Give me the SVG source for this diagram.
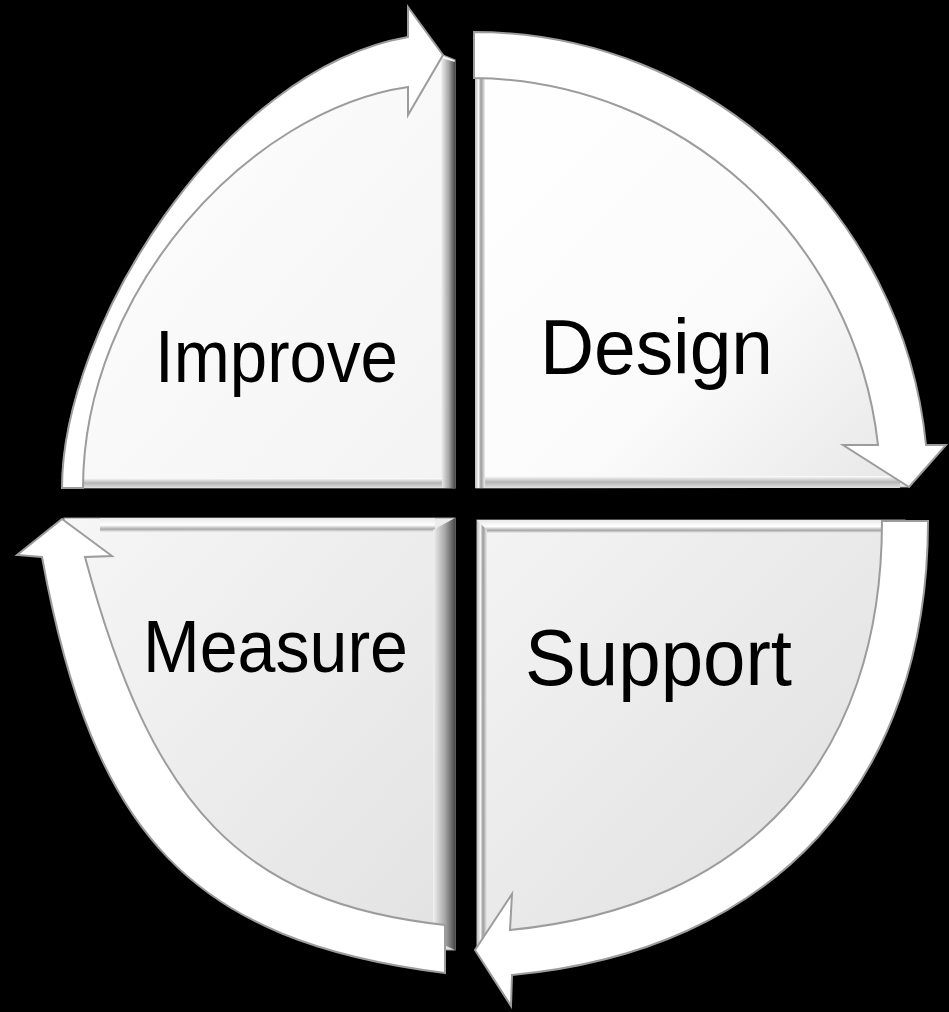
<svg xmlns="http://www.w3.org/2000/svg" width="949" height="1012" viewBox="0 0 949 1012">
  <defs>
    <linearGradient id="gTL" x1="0" y1="0" x2="1" y2="1">
      <stop offset="0" stop-color="#ffffff"/>
      <stop offset="1" stop-color="#f3f3f3"/>
    </linearGradient>
    <linearGradient id="gTR" x1="0" y1="0" x2="1" y2="1">
      <stop offset="0" stop-color="#ffffff"/>
      <stop offset="0.6" stop-color="#fbfbfb"/>
      <stop offset="1" stop-color="#e6e6e6"/>
    </linearGradient>
    <linearGradient id="gBL" x1="0" y1="0" x2="1" y2="1">
      <stop offset="0" stop-color="#f6f6f6"/>
      <stop offset="1" stop-color="#e2e2e2"/>
    </linearGradient>
    <linearGradient id="gBR" x1="0" y1="0" x2="1" y2="1">
      <stop offset="0" stop-color="#f4f4f4"/>
      <stop offset="1" stop-color="#dedede"/>
    </linearGradient>
    <linearGradient id="sideR" x1="0" y1="0" x2="1" y2="0">
      <stop offset="0" stop-color="#f2f2f2"/>
      <stop offset="0.55" stop-color="#a6a6a6"/>
      <stop offset="1" stop-color="#4a4a4a"/>
    </linearGradient>
    <linearGradient id="sideL" x1="0" y1="0" x2="1" y2="0">
      <stop offset="0" stop-color="#bdbdbd"/>
      <stop offset="0.35" stop-color="#f4f4f4"/>
      <stop offset="0.6" stop-color="#9a9a9a"/>
      <stop offset="1" stop-color="#ececec"/>
    </linearGradient>
    <linearGradient id="rimB" x1="0" y1="0" x2="0" y2="1">
      <stop offset="0" stop-color="#ffffff"/>
      <stop offset="0.5" stop-color="#b5b5b5"/>
      <stop offset="1" stop-color="#e0e0e0"/>
    </linearGradient>
    <linearGradient id="rimT" x1="0" y1="0" x2="0" y2="1">
      <stop offset="0" stop-color="#e8e8e8"/>
      <stop offset="0.5" stop-color="#ffffff"/>
      <stop offset="0.8" stop-color="#a8a8a8"/>
      <stop offset="1" stop-color="#f0f0f0"/>
    </linearGradient>
  </defs>
  <style>
    .body { stroke: #9a9a9a; stroke-width: 1.2; }
    .band { fill: #ffffff; stroke: #9c9c9c; stroke-width: 2; stroke-linejoin: miter; }
    .label { font-family: "Liberation Sans", Arial, sans-serif; fill: #000000; }
  </style>
  <rect x="0" y="0" width="949" height="1012" fill="#000000"/>

  <g id="improve">
    <path class="body" fill="url(#gTL)" d="M455,488 L62,488 C62,330 220,70 408,37 L443,55 L455,60 Z"/>
    <path d="M441,58 L455,62 L455,488 L441,488 Z" fill="url(#sideR)"/>
    <rect x="70" y="478" width="372" height="10" fill="url(#rimB)"/>
    <text class="label" x="155" y="382" font-size="75" textLength="243" lengthAdjust="spacingAndGlyphs">Improve</text>
  </g>

  <g id="design">
    <path class="body" fill="url(#gTR)" d="M476,488 L476,40 C700,45 900,220 920,445 L909,487 Z"/>
    <path d="M475,78 L485,78 L485,488 L475,488 Z" fill="url(#sideL)"/>
    <rect x="485" y="476" width="415" height="12" fill="url(#rimB)"/>
    <text class="label" x="540" y="374" font-size="78" textLength="233" lengthAdjust="spacingAndGlyphs">Design</text>
  </g>

  <g id="measure">
    <path class="body" fill="url(#gBL)" d="M64,518 L455,518 L455,950 L445,950 C210,930 100,830 64,557 Z"/>
    <rect x="100" y="518" width="335" height="14" fill="url(#rimT)"/>
    <path d="M433,530 L455,518 L455,950 L433,940 Z" fill="url(#sideR)"/>
    <text class="label" x="143" y="672" font-size="75" textLength="265" lengthAdjust="spacingAndGlyphs">Measure</text>
  </g>

  <g id="support">
    <path class="body" fill="url(#gBR)" d="M477,520 L905,520 C905,760 760,945 510,952 L477,946 Z"/>
    <rect x="477" y="520" width="410" height="13" fill="url(#rimT)"/>
    <path d="M477,520 L487,530 L487,940 L477,946 Z" fill="url(#sideL)"/>
    <text class="label" x="525" y="685" font-size="80" textLength="267" lengthAdjust="spacingAndGlyphs">Support</text>
  </g>

  <g id="connectors">
    <path class="band" d="M62,488 C62,330 220,70 408,37 L408,7 L443,55 L408,115 L408,87 C250,110 83,290 83,488 Z"/>
    <path class="band" d="M474,32 C708,32 903,212 926,445 L946,445 L909,487 L843,445 L878,445 C855,239 682,80 474,78 Z"/>
    <path class="band" d="M928,521 C928,783 773,951 512,975 L511,1006 L475,950 L512,894 L510,930 C748,907 882,760 882,521 Z"/>
    <path class="band" d="M445,973 C192,941 93,836 42,557 L17,555 L62,519 L112,556 L85,557 C153,810 243,903 445,925 Z"/>
  </g>
</svg>
